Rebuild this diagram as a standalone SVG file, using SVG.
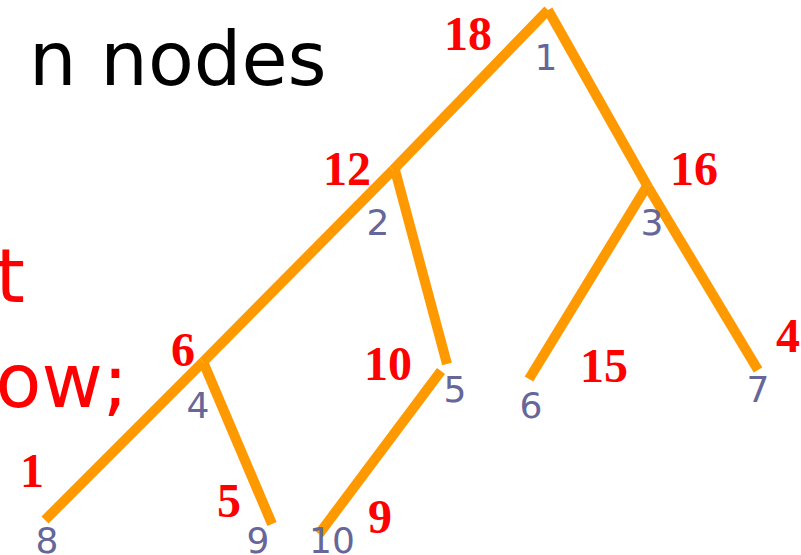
<svg xmlns="http://www.w3.org/2000/svg" width="801" height="555" viewBox="0 0 801 555">
  <style>
    .edge { stroke: #FF9900; stroke-width: 10; stroke-linecap: butt; fill: none; }
    .id { font-family: "DejaVu Sans", "Liberation Sans", sans-serif; font-size: 36px; fill: #666699; text-anchor: middle; }
    .w { font-family: "Liberation Serif", "Times New Roman", serif; font-size: 48px; font-weight: bold; fill: #FF0000; text-anchor: middle; }
    .big { font-family: "DejaVu Sans", "Liberation Sans", sans-serif; font-size: 75px; }
  </style>
  <rect width="801" height="555" fill="#FFFFFF"/>
  <text class="big" x="29" y="85" fill="#000000">n nodes</text>
  <text class="big" x="25" y="302" fill="#FF0000" text-anchor="end">t</text>
  <text class="big" x="128" y="407" fill="#FF0000" text-anchor="end">ow;</text>
  <g id="connectors">
    <line class="edge" x1="548" y1="10" x2="393" y2="170"/>
    <line class="edge" x1="393" y1="170" x2="203" y2="362"/>
    <line class="edge" x1="203" y1="362" x2="45" y2="520"/>
    <line class="edge" x1="548" y1="10" x2="648" y2="187"/>
    <line class="edge" x1="648" y1="187" x2="758" y2="370"/>
    <line class="edge" x1="395" y1="170" x2="447" y2="364"/>
    <line class="edge" x1="647" y1="186" x2="529" y2="379"/>
    <line class="edge" x1="204" y1="364" x2="272" y2="524"/>
    <line class="edge" x1="441" y1="371" x2="319" y2="534"/>
  </g>
  <g id="node1"><text class="id" x="546" y="70">1</text><text class="w" x="468" y="50">18</text></g>
  <g id="node2"><text class="id" x="378" y="235">2</text><text class="w" x="347" y="185">12</text></g>
  <g id="node3"><text class="id" x="652" y="235">3</text><text class="w" x="694" y="185">16</text></g>
  <g id="node4"><text class="id" x="198" y="418">4</text><text class="w" x="183" y="366">6</text></g>
  <g id="node5"><text class="id" x="455" y="402">5</text><text class="w" x="388" y="380">10</text></g>
  <g id="node6"><text class="id" x="531" y="418">6</text><text class="w" x="604" y="382">15</text></g>
  <g id="node7"><text class="id" x="758" y="402">7</text><text class="w" x="788" y="352">4</text></g>
  <g id="node8"><text class="id" x="47" y="553">8</text><text class="w" x="32" y="487">1</text></g>
  <g id="node9"><text class="id" x="258" y="553">9</text><text class="w" x="229" y="517">5</text></g>
  <g id="node10"><text class="id" x="332" y="553">10</text><text class="w" x="380" y="533">9</text></g>
</svg>
